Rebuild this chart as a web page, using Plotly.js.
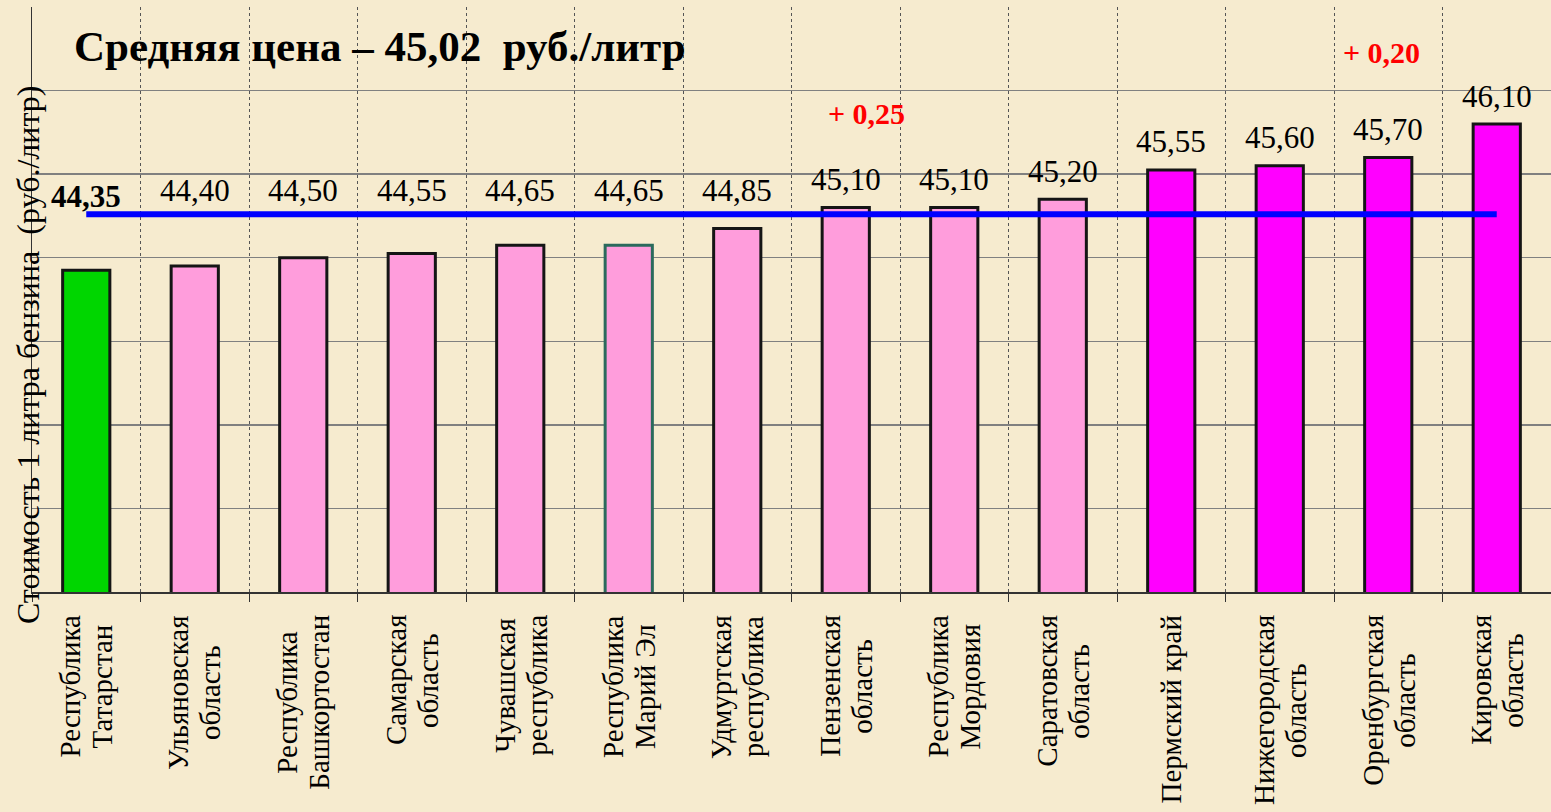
<!DOCTYPE html>
<html><head><meta charset="utf-8">
<script src="https://cdn.plot.ly/plotly-3.0.1.min.js"></script>
<style>html,body{margin:0;padding:0;background:#f6ebcf;}#chart{width:1551px;height:812px;}</style>
</head><body><div id="chart"></div>
<script>
const regions = ["Республика<br>Татарстан","Ульяновская<br>область","Республика<br>Башкортостан","Самарская<br>область","Чувашская<br>республика","Республика<br>Марий Эл","Удмуртская<br>республика","Пензенская<br>область","Республика<br>Мордовия","Саратовская<br>область","Пермский край","Нижегородская<br>область","Оренбургская<br>область","Кировская<br>область"];
const prices = [44.35,44.40,44.50,44.55,44.65,44.65,44.85,45.10,45.10,45.20,45.55,45.60,45.70,46.10];
const priceLabels = ["44,35","44,40","44,50","44,55","44,65","44,65","44,85","45,10","45,10","45,20","45,55","45,60","45,70","46,10"];
const barColors = ["#00d600","#ff9ddc","#ff9ddc","#ff9ddc","#ff9ddc","#ff9ddc","#ff9ddc","#ff9ddc","#ff9ddc","#ff9ddc","#ff00ff","#ff00ff","#ff00ff","#ff00ff"];
const average = 45.02;
const titleText = "Средняя цена – 45,02  руб./литр";
const yTitle = "Стоимость 1 литра бензина  (руб./литр)";
const changeRegions = [7, 12];
const changeLabels = ["+ 0,25", "+ 0,20"];
const changeY = [46.23, 46.95];

const serif = "Liberation Serif";
const lineColors = prices.map((v,i)=> i===5 ? "#2b6a5c" : "#151515");

const traces = [
  {type:"bar", x:regions, y:prices, marker:{color:barColors, line:{color:lineColors, width:3}}, hoverinfo:"skip"},
  {type:"scatter", mode:"lines", x:regions, y:regions.map(()=>average), line:{color:"#0000ff", width:6}, hoverinfo:"skip"}
];

const tickFont = 29, lineGap = 32, tickTop = 23;
const ctx = document.createElement("canvas").getContext("2d");
ctx.font = tickFont + "px 'Liberation Serif'";

const annotations = [];
prices.forEach((v,i)=>{
  annotations.push({x:regions[i], y:Math.max(v,average), xref:"x", yref:"y",
    text: i===0 ? "<b>"+priceLabels[i]+"</b>" : priceLabels[i], showarrow:false,
    xanchor:"center", yanchor:"middle", yshift: i===0 ? 18 : (v < average ? 24 : 28), font:{family:serif, size:31, color:"#000"}});
  const parts = regions[i].split("<br>");
  const maxW = Math.max(...parts.map(p=>ctx.measureText(p).width));
  parts.forEach((p,j)=>{
    annotations.push({x:regions[i], y:0, xref:"x", yref:"paper", text:p, showarrow:false, textangle:-90,
      xanchor:"center", yanchor:"middle", xshift:(j-(parts.length-1)/2)*lineGap, yshift:-(tickTop+maxW/2),
      font:{family:serif, size:tickFont, color:"#000"}});
  });
});
const changeShift = [21, -7];
changeRegions.forEach((ci,k)=>{
  annotations.push({x:regions[ci], y:changeY[k], xref:"x", yref:"y", xshift:changeShift[k], xanchor:"center", yanchor:"middle",
    text:"<b>"+changeLabels[k]+"</b>", showarrow:false, font:{family:serif, size:30, color:"#ff0000"}});
});
annotations.push({x:0.229, y:0.932, xref:"paper", yref:"paper", xanchor:"center", yanchor:"middle",
  text:"<b>"+titleText+"</b>", showarrow:false, font:{family:serif, size:43, color:"#000"}});
annotations.push({x:0, y:0.405, xref:"paper", yref:"paper", xanchor:"center", yanchor:"middle", xshift:-4,
  text:yTitle, textangle:-90, showarrow:false, font:{family:serif, size:32, color:"#000"}});

const layout = {
  width:1551, height:812,
  margin:{l:32, r:0, t:7, b:220},
  paper_bgcolor:"#f6ebcf", plot_bgcolor:"#f6ebcf",
  showlegend:false, bargap:0.565,
  xaxis:{type:"category", tickson:"boundaries", showgrid:true, gridcolor:"#555", griddash:"dot", gridwidth:1,
    showticklabels:false, ticks:"outside", ticklen:8, tickcolor:"#333", showline:true, linecolor:"#333", linewidth:2, zeroline:false, fixedrange:true},
  yaxis:{range:[40.5,47.5], tick0:40.5, dtick:1, showticklabels:false, showgrid:true, gridcolor:"#808080", gridwidth:1.5,
    showline:true, linecolor:"#333", linewidth:1.5, zeroline:false, ticks:"", fixedrange:true},
  annotations:annotations
};
Plotly.newPlot("chart", traces, layout, {displayModeBar:false, staticPlot:true});
</script></body></html>
